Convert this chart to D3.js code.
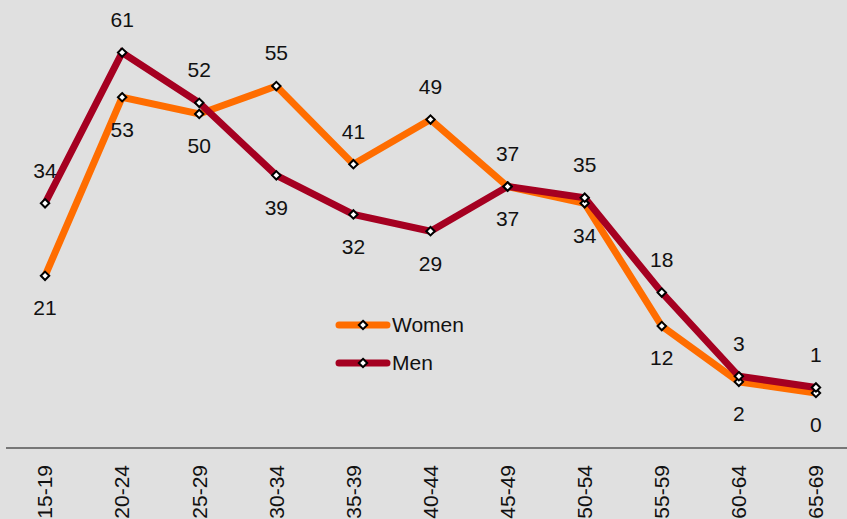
<!DOCTYPE html>
<html><head><meta charset="utf-8">
<script src="https://cdn.jsdelivr.net/npm/d3@7"></script>
<style>html,body{margin:0;padding:0;background:#e0e0e0;}svg{display:block;}</style>
</head><body>
<svg id="c" width="847" height="519"></svg>
<script>
const categories = ["15-19","20-24","25-29","30-34","35-39","40-44","45-49","50-54","55-59","60-64","65-69"];
const women = [21, 53, 50, 55, 41, 49, 37, 34, 12, 2, 0];
const men = [34, 61, 52, 39, 32, 29, 37, 35, 18, 3, 1];
const seriesNames = ["Women", "Men"];

const W = 847, H = 519;
const FONT = "Liberation Sans, Arial, sans-serif";
const FS = 21;
const svg = d3.select("#c");
svg.append("rect").attr("width", W).attr("height", H).attr("fill", "#e0e0e0");

const x = d3.scaleBand().domain(categories).range([6.5, 854.5]);
const y = d3.scaleLinear().domain([0, 61]).range([393, 52.6]);
const cx = c => x(c) + x.bandwidth() / 2;

// axis
const axisY = 448;
const ax = svg.append("g").attr("transform", `translate(0,${axisY})`)
  .call(d3.axisBottom(x).tickSize(0).tickPadding(0));
ax.select(".domain").attr("stroke", "#555").attr("stroke-width", 1.5).attr("d", "M6,0H847");
ax.selectAll(".tick text")
  .attr("font-family", FONT)
  .attr("font-size", FS).attr("fill", "#111")
  .attr("transform", "translate(0,17) rotate(-90)")
  .attr("text-anchor", "end").attr("dy", "0.35em").attr("y", 0).attr("x", 0);

const colors = {Women: "#ff6d00", Men: "#a50021"};
const data = {Women: women, Men: men};
const line = d3.line().x((d, i) => cx(categories[i])).y(d => y(d));

function diamond(g, px, py) {
  const s = 4.2;
  g.append("path")
    .attr("d", `M${px},${py - s}L${px + s},${py}L${px},${py + s}L${px - s},${py}Z`)
    .attr("fill", "#fff").attr("stroke", "#000").attr("stroke-width", 2);
}

seriesNames.forEach(name => {
  svg.append("path").datum(data[name]).attr("d", line)
    .attr("fill", "none").attr("stroke", colors[name]).attr("stroke-width", 7)
    .attr("stroke-linejoin", "miter");
});
seriesNames.forEach(name => {
  const g = svg.append("g");
  data[name].forEach((v, i) => diamond(g, cx(categories[i]), y(v)));
});

// labels: higher value above, lower below
const lab = svg.append("g").attr("font-family", FONT)
  .attr("font-size", FS).attr("fill", "#111").attr("text-anchor", "middle");
categories.forEach((c, i) => {
  const wv = women[i], mv = men[i];
  const menAbove = mv >= wv;
  const hi = menAbove ? mv : wv, lo = menAbove ? wv : mv;
  lab.append("text").attr("x", cx(c)).attr("y", y(hi) - 33).attr("dy", "0.35em").text(hi);
  lab.append("text").attr("x", cx(c)).attr("y", y(lo) + 32).attr("dy", "0.35em").text(lo);
});

// legend
const leg = svg.append("g");
seriesNames.forEach((name, i) => {
  const ly = 325 + i * 38;
  leg.append("line").attr("x1", 339).attr("x2", 387).attr("y1", ly).attr("y2", ly)
    .attr("stroke", colors[name]).attr("stroke-width", 7).attr("stroke-linecap", "round");
  diamond(leg, 363, ly);
  leg.append("text").attr("x", 392).attr("y", ly).attr("dy", "0.35em")
    .attr("font-family", FONT).attr("font-size", FS)
    .attr("fill", "#111").text(name);
});
</script>
</body></html>
